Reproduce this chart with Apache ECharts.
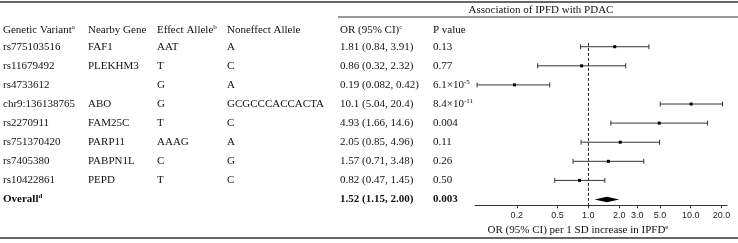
<!DOCTYPE html>
<html>
<head>
<meta charset="utf-8">
<script src="https://cdn.jsdelivr.net/npm/echarts@6/dist/echarts.min.js"></script>
<style>
  html, body { margin: 0; padding: 0; background: #fff; }
  #chart { width: 738px; height: 243px; }
</style>
</head>
<body>
<div id="chart"></div>
<script>
// table columns (last row is the pooled estimate)
const variants = ['rs775103516', 'rs11679492', 'rs4733612', 'chr9:136138765', 'rs2270911', 'rs751370420', 'rs7405380', 'rs10422861', 'Overall'];
const genes = ['FAF1', 'PLEKHM3', '', 'ABO', 'FAM25C', 'PARP11', 'PABPN1L', 'PEPD', ''];
const effectAlleles = ['AAT', 'T', 'G', 'G', 'T', 'AAAG', 'C', 'T', ''];
const noneffectAlleles = ['A', 'C', 'A', 'GCGCCCACCACTA', 'C', 'A', 'G', 'C', ''];
const orValues = [1.81, 0.86, 0.19, 10.1, 4.93, 2.05, 1.57, 0.82, 1.52];
const ciLow = [0.84, 0.32, 0.082, 5.04, 1.66, 0.85, 0.71, 0.47, 1.15];
const ciHigh = [3.91, 2.32, 0.42, 20.4, 14.6, 4.96, 3.48, 1.45, 2.00];
const pValues = ['0.13', '0.77', '6.1e-5', '8.4e-11', '0.004', '0.11', '0.26', '0.50', '0.003'];
const tickValues = [0.2, 0.5, 1, 2, 3, 5, 10, 20];

const headers = ['Genetic Variant{s|a}', 'Nearby Gene', 'Effect Allele{s|b}', 'Noneffect Allele', 'OR (95% CI){s|c}', 'P value'];
const colX = [3, 88, 157, 227, 340, 433];

const SERIF = '"Liberation Serif", "Times New Roman", serif';
const INK = '#111';
const overallIdx = variants.length - 1;

function fmt(v) {
  if (v >= 10) return v.toFixed(1);
  if (v < 0.1) return v.toFixed(3);
  return v.toFixed(2);
}
function pText(s) {
  const m = s.match(/^([\d.]+)e(-\d+)$/);
  return m ? m[1] + '\u00d710{s|' + m[2] + '}' : s;
}
function txtStyle(text, bold, align) {
  const w = bold ? 'bold' : 'normal';
  return {
    text: text,
    fontSize: 11, fontFamily: SERIF, fontWeight: w,
    fill: INK, lineHeight: 13,
    align: align || 'left', verticalAlign: 'middle',
    textAlign: align || 'left', textVerticalAlign: 'middle',
    rich: { s: { fontSize: 7, fontFamily: SERIF, fontWeight: w, fill: INK, lineHeight: 6, verticalAlign: 'top' } }
  };
}

const chart = echarts.init(document.getElementById('chart'), null, { renderer: 'canvas' });

const ciData = variants.slice(0, overallIdx).map((v, i) => [ciLow[i], ciHigh[i], orValues[i], i]);
const overallData = [[ciLow[overallIdx], ciHigh[overallIdx], orValues[overallIdx], overallIdx]];
const tableData = variants.map((v, i) => [orValues[i], i]);

chart.setOption({
  animation: false,
  backgroundColor: '#fff',
  grid: { left: 475, width: 252, top: 42.9, height: 162.35 },
  xAxis: {
    type: 'log', logBase: 10, min: 0.0782, max: 22.62,
    axisLine: { show: true, onZero: false, lineStyle: { color: '#333', width: 1 } },
    axisTick: { show: true, customValues: tickValues, length: 3, lineStyle: { color: '#333' } },
    axisLabel: {
      customValues: tickValues, formatter: v => Number(v).toFixed(1),
      fontFamily: '"Liberation Sans", Arial, sans-serif', fontSize: 9, color: '#222', margin: 6
    },
    splitLine: { show: false },
    minorTick: { show: false }
  },
  yAxis: { type: 'value', inverse: true, min: -0.2, max: 8.3, show: false },
  series: [
    {
      type: 'custom', name: 'ci', data: ciData, encode: { x: [0, 1, 2], y: 3 }, silent: true,
      renderItem(params, api) {
        const row = api.value(3);
        const a = api.coord([api.value(0), row]);
        const b = api.coord([api.value(1), row]);
        const m = api.coord([api.value(2), row]);
        const ls = { stroke: '#333', lineWidth: 1 };
        return {
          type: 'group', children: [
            { type: 'line', shape: { x1: a[0], y1: a[1], x2: b[0], y2: b[1] }, style: ls },
            { type: 'line', shape: { x1: a[0], y1: a[1] - 2.5, x2: a[0], y2: a[1] + 2.5 }, style: ls },
            { type: 'line', shape: { x1: b[0], y1: b[1] - 2.5, x2: b[0], y2: b[1] + 2.5 }, style: ls },
            { type: 'rect', shape: { x: m[0] - 1.5, y: m[1] - 1.5, width: 3, height: 3 }, style: { fill: '#000' } }
          ]
        };
      },
      markLine: {
        silent: true, symbol: 'none', label: { show: false },
        lineStyle: { type: [3, 2], color: '#222', width: 1 },
        data: [{ xAxis: 1 }]
      }
    },
    {
      type: 'custom', name: 'overall', data: overallData, encode: { x: [0, 1, 2], y: 3 }, silent: true,
      renderItem(params, api) {
        const row = api.value(3);
        const a = api.coord([api.value(0), row]);
        const b = api.coord([api.value(1), row]);
        const m = api.coord([api.value(2), row]);
        const h = 2.8;
        return {
          type: 'polygon',
          shape: { points: [[a[0], a[1]], [m[0], m[1] - h], [b[0], b[1]], [m[0], m[1] + h]] },
          style: { fill: '#000' }
        };
      }
    },
    {
      type: 'custom', name: 'table', data: tableData, encode: { x: 0, y: 1 }, silent: true, clip: false,
      renderItem(params, api) {
        const i = params.dataIndex;
        const y = api.coord([api.value(0), api.value(1)])[1];
        const bold = i === overallIdx;
        const cells = [
          bold ? variants[i] + '{s|d}' : variants[i],
          genes[i], effectAlleles[i], noneffectAlleles[i],
          fmt(orValues[i]) + ' (' + fmt(ciLow[i]) + ', ' + fmt(ciHigh[i]) + ')',
          pText(pValues[i])
        ];
        return {
          type: 'group',
          children: cells.map((t, c) => ({ type: 'text', x: colX[c], y: y, style: txtStyle(t, bold) }))
        };
      }
    }
  ],
  graphic: [
    { type: 'line', shape: { x1: 0, y1: 2, x2: 738, y2: 2 }, style: { stroke: '#333', lineWidth: 1.5 } },
    { type: 'line', shape: { x1: 338, y1: 17, x2: 738, y2: 17 }, style: { stroke: '#333', lineWidth: 1 } },
    { type: 'line', shape: { x1: 0, y1: 238, x2: 738, y2: 238 }, style: { stroke: '#333', lineWidth: 1.5 } },
    { type: 'text', x: 541, y: 10, style: txtStyle('Association of IPFD with PDAC', false, 'center') },
    { type: 'text', x: 578, y: 230.5, style: txtStyle('OR (95% CI) per 1 SD increase in IPFD{s|e}', false, 'center') }
  ].concat(headers.map((h, c) => ({ type: 'text', x: colX[c], y: 30, style: txtStyle(h, false) })))
});
</script>
</body>
</html>
